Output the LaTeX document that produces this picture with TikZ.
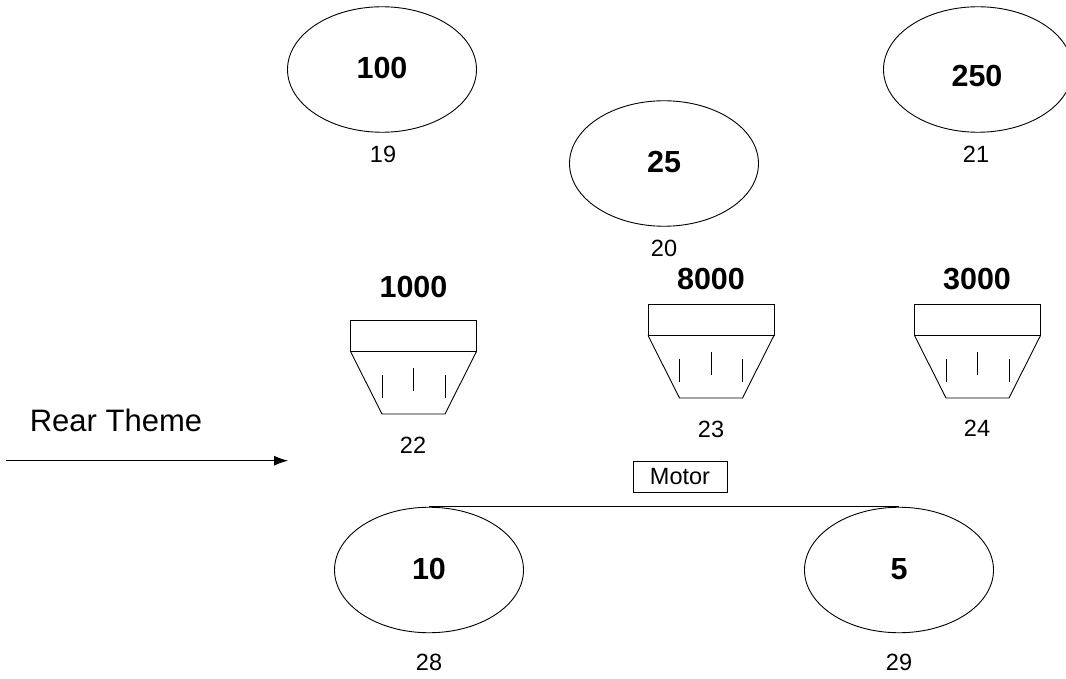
\documentclass[tikz,border=0pt]{standalone}
\usepackage{fontspec}
\setmainfont{Liberation Sans}
\usetikzlibrary{shapes.geometric,arrows.meta}
\tikzset{
  x=1pt,y=-1pt,
  line/.style={draw=black,line width=0.9pt},
  oval/.style={line,ellipse,minimum width=189pt,minimum height=125.5pt,inner sep=0pt},
  num/.style={font=\fontsize{23.5}{25}\selectfont,inner sep=0pt},
  big/.style={font=\fontsize{30.5}{32}\selectfont\bfseries,inner sep=0pt},
  hopper/.pic={
    \draw[line] (-63,-31.5) rectangle (63,0);
    \draw[line] (-63,0) -- (-31.5,62.5) -- (31.5,62.5) -- (63,0);
    \draw[line] (-31.5,23) -- (-31.5,46);
    \draw[line] (0,16) -- (0,39);
    \draw[line] (31.5,23) -- (31.5,46);
  }
}
\begin{document}
\begin{tikzpicture}
\useasboundingbox (0,0) rectangle (1066,679);
\fill[white] (0,0) rectangle (1066,679);
\node[oval] (a) at (382,69.5) {};
\node[oval] (b) at (664,163.5) {};
\node[oval] (c) at (978,69.5) {};
\node[oval] (d) at (429,570) {};
\node[oval] (e) at (899,570) {};
\node[big] (ta) at (382,68) {100};
\node[big] (tb) at (664,162) {25};
\node[big] (tc) at (977,76) {250};
\node[big] (td) at (429,569) {10};
\node[big] (te) at (899,569) {5};
\node[num] (n19) at (383,154) {19};
\node[num] (n20) at (664,248) {20};
\node[num] (n21) at (976,154) {21};
\node[num] (n28) at (429,662) {28};
\node[num] (n29) at (899,662) {29};
\node[num] (n22) at (413,445) {22};
\node[num] (n23) at (711,429) {23};
\node[num] (n24) at (977,428) {24};
\node[big] (t1) at (413.5,287) {1000};
\node[big] (t2) at (711,279) {8000};
\node[big] (t3) at (977,279) {3000};
\pic at (413.5,351.5) {hopper};
\pic at (711,335.5) {hopper};
\pic at (977.5,335.5) {hopper};
\node[line,font=\fontsize{23.5}{25}\selectfont,minimum width=94pt,minimum height=31pt,inner sep=0pt] (m) at (680,476.5) {Motor};
\node[font=\fontsize{31}{33}\selectfont,inner sep=0pt] (r) at (116,420) {Rear Theme};
\coordinate (s) at (6,460.7);
\coordinate (f) at (288,460.7);
\draw[line,-{Latex[length=14pt,width=10pt]}] (s) -- (f);
\draw[line] (d.north) -- (e.north);
\end{tikzpicture}
\end{document}
